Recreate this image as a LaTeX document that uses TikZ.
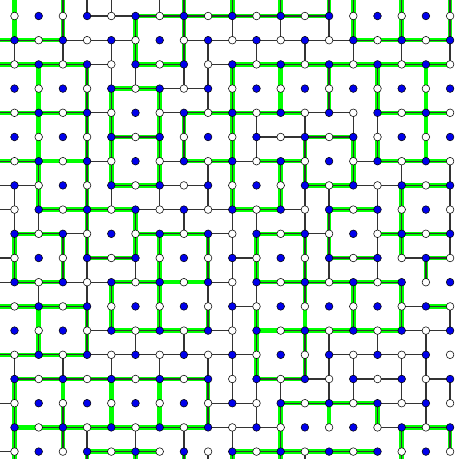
\documentclass[tikz,border=0pt]{standalone}
\usepackage{tikz}
\definecolor{bondgreen}{RGB}{0,255,0}
\definecolor{siteblue}{RGB}{0,0,235}
\tikzset{
  greenbond/.style={bondgreen,line width=4.2pt},
  blackbond/.style={black!80,line width=1.2pt},
  site/.style={circle,draw=black,line width=0.5pt,inner sep=0pt,minimum size=7.2pt},
  bluesite/.style={site,fill=siteblue},
  whitesite/.style={site,fill=white},
}
% bonds are listed as i/j; horizontal: (i,j)--(i+1,j), vertical: (i,j)--(i,j+1)
% green with black line on top
\def\hGreenBlack{5/0,6/0,7/0,8/0,9/0,10/0,11/0,12/0,
  -1/1,0/1,1/1,14/1,15/1,16/1,17/1,
  -1/2,0/2,1/2,2/2,5/2,6/2,9/2,10/2,11/2,12/2,13/2,14/2,15/2,16/2,17/2,
  4/3,5/3,
  -1/4,0/4,1/4,2/4,7/4,8/4,9/4,10/4,11/4,15/4,16/4,17/4,
  4/5,5/5,12/5,13/5,
  -1/6,0/6,7/6,8/6,10/6,11/6,15/6,16/6,17/6,
  4/7,5/7,12/7,13/7,16/7,17/7,
  1/8,2/8,3/8,4/8,9/8,10/8,13/8,14/8,
  0/9,1/9,5/9,6/9,7/9,10/9,11/9,15/9,16/9,17/9,
  3/10,4/10,13/10,14/10,17/10,
  0/11,1/11,4/11,5/11,10/11,11/11,12/11,13/11,14/11,15/11,
  -1/12,0/12,1/12,2/12,17/12,
  4/13,5/13,6/13,7/13,11/13,12/13,13/13,14/13,15/13,
  -1/14,0/14,1/14,2/14,
  0/15,1/15,2/15,3/15,4/15,5/15,6/15,7/15,10/15,11/15,
  11/16,12/16,13/16,14/16,
  1/17,2/17,3/17,4/17,5/17,6/17,7/17,16/17,17/17,
  3/18,4/18,5/18,9/18,10/18,11/18,12/18,13/18,14/18}
\def\vGreenBlack{2/-1,7/-1,9/-1,11/-1,13/-1,14/-1,16/-1,18/-1,
  2/0,5/0,7/0,14/0,16/0,18/0,
  5/1,7/1,
  3/2,9/2,13/2,15/2,
  3/3,4/3,6/3,9/3,13/3,15/3,
  3/4,4/4,6/4,7/4,9/4,
  3/5,4/5,6/5,7/5,9/5,12/5,14/5,15/5,
  1/6,3/6,4/6,6/6,9/6,11/6,12/6,14/6,
  1/7,3/7,9/7,11/7,16/7,
  3/8,5/8,13/8,16/8,
  0/9,2/9,3/9,5/9,6/9,8/9,10/9,12/9,13/9,16/9,
  0/10,2/10,6/10,8/10,10/10,12/10,17/10,
  4/11,6/11,12/11,14/11,16/11,
  3/12,4/12,6/12,8/12,10/12,14/12,16/12,
  1/13,3/13,10/13,12/13,
  10/14,12/14,
  0/15,8/15,
  0/16,2/16,8/16,11/16,15/16,
  0/17,2/17,11/17,16/17,18/17,
  0/18,3/18,5/18,7/18,9/18,11/18,16/18}
% green only
\def\hGreen{1/6,2/6,6/11,7/11,10/13,0/17}
\def\vGreen{0/-1,0/0,1/2,11/2,17/2,1/3,11/3,17/3,1/4,17/4,1/5,17/5,
  1/12,12/12,2/15,4/15,6/15,4/16,6/16,13/16}
% black only
\def\hBlack{3/0,4/0,
  2/1,3/1,4/1,7/1,8/1,9/1,10/1,11/1,12/1,13/1,
  3/2,8/2,
  6/3,7/3,
  3/4,6/4,12/4,13/4,
  10/5,11/5,
  3/6,6/6,9/6,14/6,
  -1/7,0/7,6/7,7/7,14/7,15/7,
  -1/8,5/8,6/8,7/8,8/8,11/8,
  2/9,8/9,12/9,
  -1/10,9/10,16/10,
  -1/11,2/11,3/11,8/11,
  9/12,16/12,
  3/13,8/13,16/13,17/13,
  3/14,4/14,5/14,6/14,7/14,8/14,9/14,13/14,14/14,15/14,16/14,
  12/15,14/15,15/15,17/15,
  -1/16,8/16,9/16,15/16,16/16,
  8/17,9/17,10/17,15/17,
  -1/18}
\def\vBlack{3/-1,4/-1,6/-1,
  9/0,11/0,13/0,
  0/1,2/1,4/1,8/1,10/1,12/1,14/1,16/1,18/1,
  4/2,5/2,7/2,8/2,
  8/3,
  10/4,12/4,14/4,15/4,
  10/5,
  8/6,16/6,18/6,
  0/7,4/7,6/7,8/7,12/7,13/7,15/7,18/7,
  0/8,1/8,7/8,9/8,10/8,12/8,15/8,18/8,
  9/9,15/9,18/9,
  3/10,5/10,9/10,13/10,15/10,
  1/11,3/11,8/11,9/11,10/11,
  9/12,18/12,
  5/13,7/13,9/13,13/13,15/13,17/13,
  0/14,2/14,4/14,6/14,8/14,9/14,13/14,14/14,16/14,17/14,
  9/15,10/15,11/15,13/15,14/15,16/15,17/15,18/15,
  10/16,17/16,
  3/17,5/17,7/17,9/17,
  8/18,12/18}

\begin{document}
\begin{tikzpicture}[x=0.8cm,y=-0.8cm]
  \path[use as bounding box] (-0.599,-0.661) rectangle (18.285,18.306);
  \clip (-0.599,-0.661) rectangle (18.285,18.306);

  % lattice points, one ring beyond the border for the cut bonds
  \foreach \i in {-1,...,19}
    \foreach \j in {-1,...,19}
      \coordinate (p\i-\j) at (\i,\j);

  % green layer
  \foreach \i/\j [evaluate=\i as \k using int(\i+1)] in \hGreenBlack
    \draw[greenbond] (p\i-\j) -- (p\k-\j);
  \foreach \i/\j [evaluate=\i as \k using int(\i+1)] in \hGreen
    \draw[greenbond] (p\i-\j) -- (p\k-\j);
  \foreach \i/\j [evaluate=\j as \k using int(\j+1)] in \vGreenBlack
    \draw[greenbond] (p\i-\j) -- (p\i-\k);
  \foreach \i/\j [evaluate=\j as \k using int(\j+1)] in \vGreen
    \draw[greenbond] (p\i-\j) -- (p\i-\k);

  % black layer
  \foreach \i/\j [evaluate=\i as \k using int(\i+1)] in \hGreenBlack
    \draw[blackbond] (p\i-\j) -- (p\k-\j);
  \foreach \i/\j [evaluate=\i as \k using int(\i+1)] in \hBlack
    \draw[blackbond] (p\i-\j) -- (p\k-\j);
  \foreach \i/\j [evaluate=\j as \k using int(\j+1)] in \vGreenBlack
    \draw[blackbond] (p\i-\j) -- (p\i-\k);
  \foreach \i/\j [evaluate=\j as \k using int(\j+1)] in \vBlack
    \draw[blackbond] (p\i-\j) -- (p\i-\k);

  % sites
  \foreach \i in {0,...,18}
    \foreach \j in {0,...,18} {
      \ifodd\numexpr\i+\j\relax
        \node[bluesite] (s\i-\j) at (p\i-\j) {};
      \else
        \node[whitesite] (s\i-\j) at (p\i-\j) {};
      \fi
    }
\end{tikzpicture}
\end{document}
